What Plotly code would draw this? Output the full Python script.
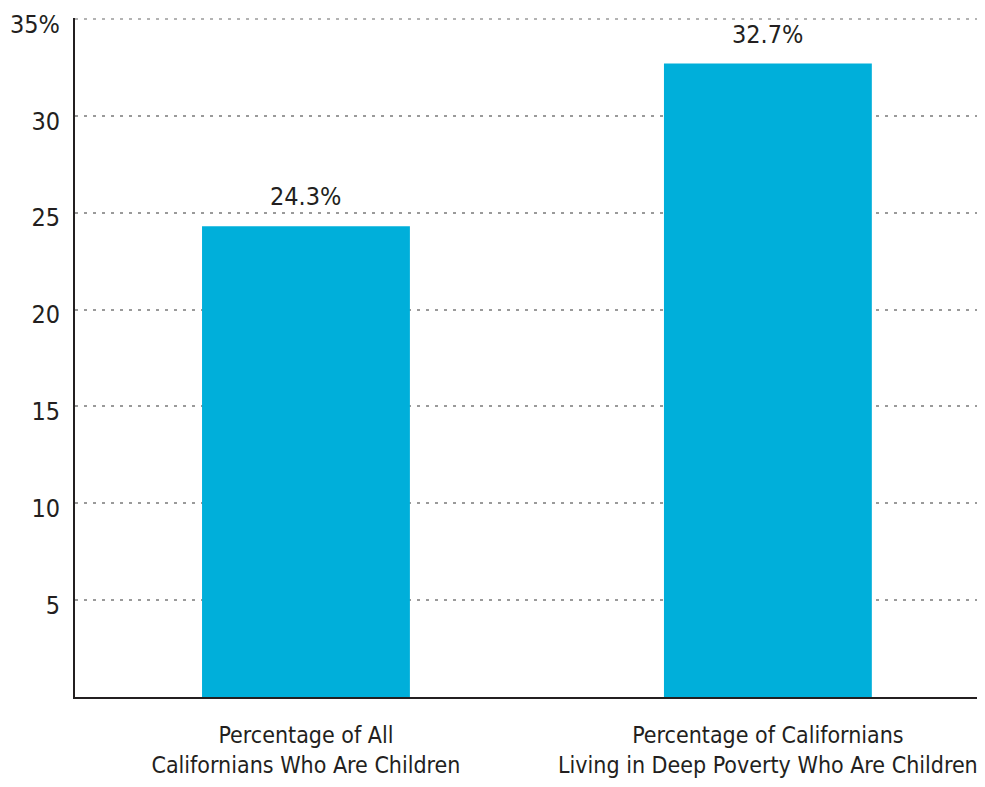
import plotly.graph_objects as go

categories = ["Percentage of All<br>Californians Who Are Children",
              "Percentage of Californians<br>Living in Deep Poverty Who Are Children"]
values = [24.3, 32.7]
y_tickvals = [5, 10, 15, 20, 25, 30, 35]
y_ticktext = ["5", "10", "15", "20", "25", "30", "35%"]

FONT = "DejaVu Sans Condensed, Liberation Sans Narrow, Roboto, sans-serif"
TXT = "#231f20"
GRID = "#9a9a9a"

fig = go.Figure(go.Bar(
    x=[0, 1], y=values,
    marker=dict(color="#00afda", line=dict(width=0)),
    width=0.45,
    hoverinfo="skip",
))

for i, v in enumerate(values):
    fig.add_annotation(x=i, y=v, text=f"{v}%", showarrow=False,
                       yanchor="bottom", yshift=13,
                       font=dict(family=FONT, size=25, color=TXT))

# top gridline (at the edge of the range) drawn explicitly
fig.add_shape(type="line", xref="paper", yref="y", x0=0, x1=1,
              y0=y_tickvals[-1], y1=y_tickvals[-1],
              line=dict(color=GRID, width=1.5, dash="3px,6px"), layer="below")

# page body has an 8px default margin, so figure is sized to fill the rest
fig.update_layout(
    width=977, height=779,
    margin=dict(l=67, r=0, t=10, b=90),
    plot_bgcolor="white", paper_bgcolor="white",
    showlegend=False,
    font=dict(family=FONT, size=24, color=TXT),
)
fig.update_xaxes(
    range=[-0.5, 1.47],
    tickvals=[0, 1], ticktext=categories,
    showline=True, linecolor=TXT, linewidth=2,
    showgrid=False, ticks="", zeroline=False,
    automargin=False, ticklabeloverflow="allow",
    ticklabelstandoff=16,
    tickfont=dict(family=FONT, size=23, color=TXT),
)
fig.update_yaxes(
    range=[0, 35.05],
    tickvals=y_tickvals, ticktext=y_ticktext,
    showline=True, linecolor=TXT, linewidth=2,
    showgrid=True, gridcolor=GRID, gridwidth=1.5, griddash="3px,6px",
    zeroline=False, ticks="",
    automargin=False, ticklabeloverflow="allow",
    ticklabelstandoff=8, ticklabelshift=5,
    tickfont=dict(family=FONT, size=25, color=TXT),
)

fig.write_html("out.html")
